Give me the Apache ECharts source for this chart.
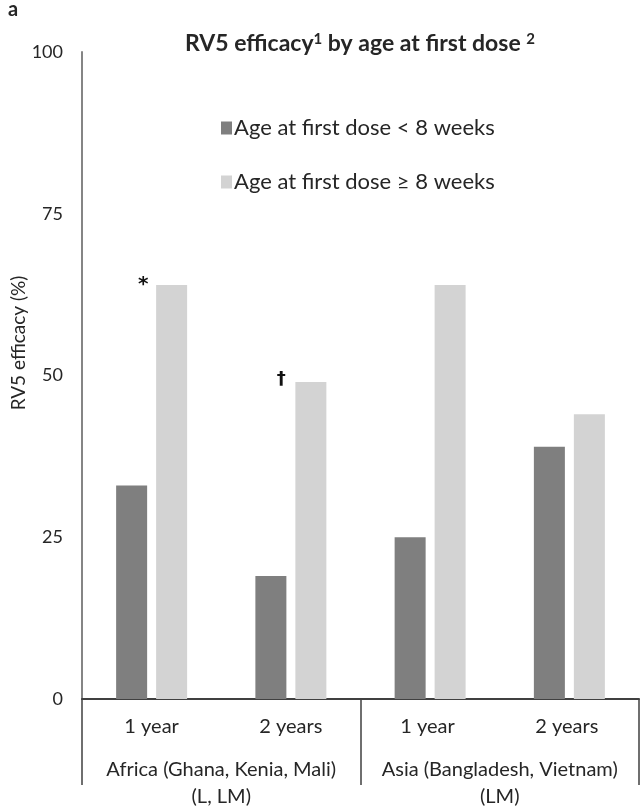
<!DOCTYPE html>
<html>
<head>
<meta charset="utf-8">
<script src="https://cdn.jsdelivr.net/npm/echarts@6/dist/echarts.min.js"></script>
<style>html,body{margin:0;padding:0;background:#fff;}#c{width:643px;height:810px;}</style>
</head>
<body>
<div id="c"></div>
<script>
const categories = ['1 year', '2 years', '1 year ', '2 years '];
const groups = ['Africa (Ghana, Kenia, Mali)\n(L, LM)', 'Asia (Bangladesh, Vietnam)\n(LM)'];
const seriesNames = ['Age at first dose < 8 weeks', 'Age at first dose \u2265 8 weeks'];
const under8 = [33, 19, 25, 39];
const over8 = [64, 49, 64, 44];
const over8Marks = ['*', '\u2020', '', ''];
const yTicks = [0, 25, 50, 75, 100];

const FONT = 'Lato';
const TXT = '#262626';
const chart = echarts.init(document.getElementById('c'), null, {renderer: 'canvas'});

const markOffsets = [[-13, 0], [-14, -3], [0, 0], [0, 0]];
const over8Data = over8.map((v, i) => over8Marks[i] ? {
  value: v,
  label: {show: true, formatter: over8Marks[i], position: markOffsets[i], align: 'center', verticalAlign: 'middle',
          fontFamily: 'DejaVu Sans', fontSize: i === 0 ? 20 : 18, fontWeight: 'bold', color: '#111'}
} : v);

chart.setOption({
  animation: false,
  backgroundColor: '#fff',
  textStyle: {fontFamily: FONT},
  title: {
    text: '{m|RV5 efficacy}{s|1}{m| by age at first dose }{s|2}',
    left: 355, top: 27, textAlign: 'center',
    textStyle: {
      rich: {
        m: {fontFamily: FONT, fontSize: 23, fontWeight: 'bold', color: TXT},
        s: {fontFamily: FONT, fontSize: 15, fontWeight: 'bold', color: TXT, verticalAlign: 'top', padding: [0, 0, 9, 0]}
      }
    }
  },
  graphic: [
    {type: 'text', left: 8, top: 0, style: {text: 'a', fontFamily: FONT, fontSize: 20, fontWeight: 'bold', fill: TXT}},
    {type: 'text', x: 19, y: 343, rotation: Math.PI / 2,
     style: {text: 'RV5 efficacy (%)', fontFamily: FONT, fontSize: 19, fill: TXT, align: 'center', verticalAlign: 'middle'}}
  ],
  legend: {
    orient: 'vertical', left: 216, top: 112, itemGap: 32,
    itemWidth: 11, itemHeight: 13, icon: 'rect',
    textStyle: {fontFamily: FONT, fontSize: 22, color: TXT, padding: [0, 0, 0, -3]},
    data: seriesNames
  },
  grid: {left: 82, right: 4, top: 52, bottom: 110, containLabel: false},
  xAxis: [
    {
      type: 'category', data: categories, position: 'bottom',
      axisLine: {show: true, lineStyle: {color: '#404040', width: 2}},
      axisTick: {show: false},
      axisLabel: {interval: 0, fontFamily: FONT, fontSize: 20, color: TXT, margin: 18}
    },
    {
      type: 'category', data: groups, position: 'bottom',
      axisLine: {show: false},
      axisTick: {show: true, interval: 0, length: 86, lineStyle: {color: '#404040', width: 1.5}},
      axisLabel: {interval: 0, hideOverlap: false, fontFamily: FONT, fontSize: 20, color: TXT, margin: 57, lineHeight: 27}
    }
  ],
  yAxis: {
    type: 'value', min: 0, max: 100, interval: 25,
    splitLine: {show: false},
    axisLine: {show: true, lineStyle: {color: '#858585', width: 2}},
    axisTick: {show: false},
    axisLabel: {fontFamily: FONT, fontSize: 18, color: TXT, margin: 19,
      formatter: v => yTicks.includes(v) ? String(v) : ''}
  },
  series: [
    {name: seriesNames[0], type: 'bar', data: under8, barWidth: 31, barGap: '29%',
     itemStyle: {color: '#7f7f7f'}},
    {name: seriesNames[1], type: 'bar', data: over8Data, barWidth: 31, barGap: '29%',
     itemStyle: {color: '#d3d3d3'}}
  ]
});
</script>
</body>
</html>
